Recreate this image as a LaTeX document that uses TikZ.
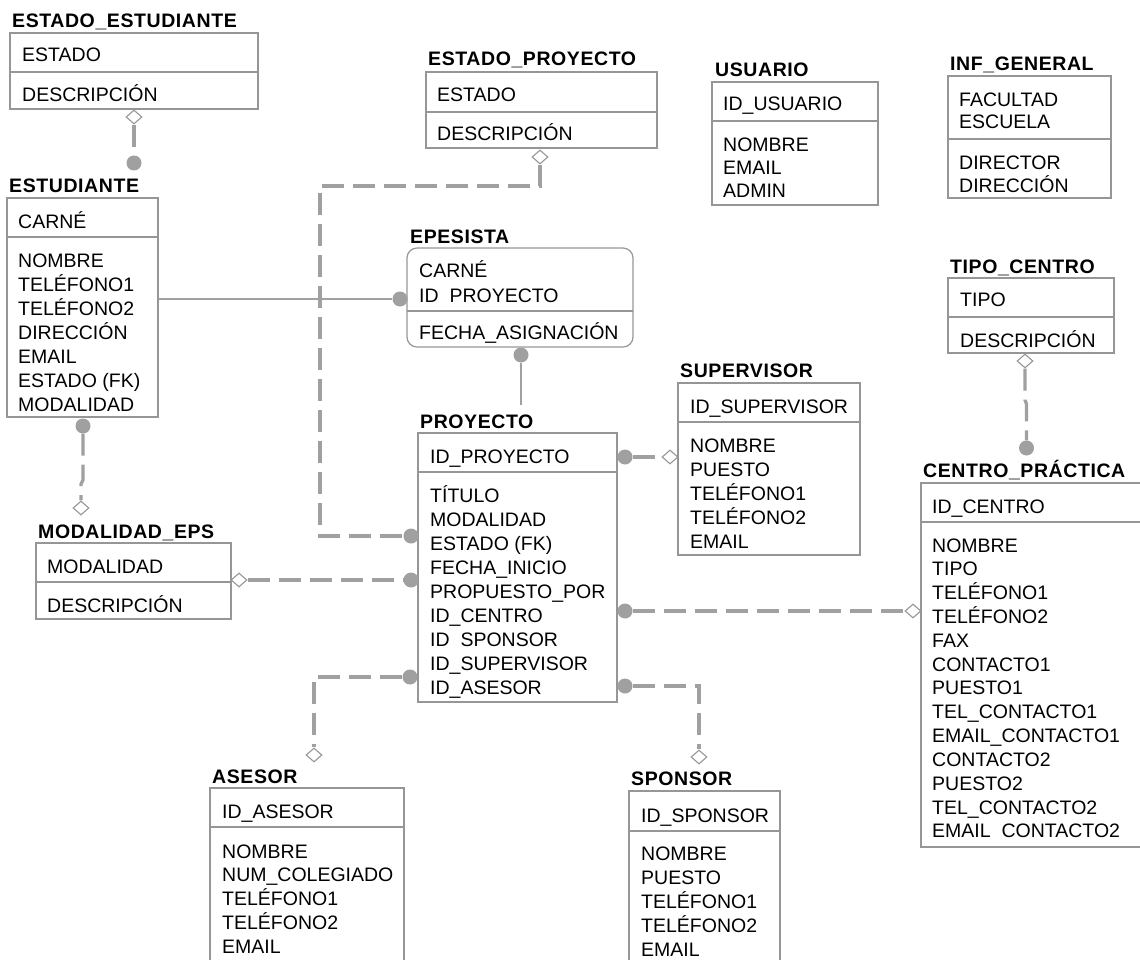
\documentclass[tikz,border=0pt]{standalone}
\usepackage{fontspec}
\setmainfont{Liberation Sans}
\usetikzlibrary{shapes.geometric,backgrounds}

\definecolor{boxgray}{RGB}{150,150,150}
\definecolor{linkgray}{RGB}{160,160,160}

\tikzset{
  ebox/.style={draw=boxgray, line width=1.2pt, inner sep=0pt, outer sep=0pt, anchor=north west},
  rbox/.style={ebox, rounded corners=10pt},
  divider/.style={draw=boxgray, line width=1.2pt},
  ttl/.style={anchor=base west, inner sep=0pt,
    font=\fontsize{19.5}{24}\selectfont\bfseries\addfontfeature{LetterSpace=3}},
  attr/.style={anchor=base west, inner sep=0pt, font=\fontsize{19.5}{24}\selectfont},
  dot/.style={circle, fill=linkgray, inner sep=0pt, minimum size=15pt},
  dia/.style={diamond, draw=boxgray, fill=white, line width=1.1pt, inner sep=0pt,
    minimum width=16pt, minimum height=14pt},
  fk/.style={draw=linkgray, line width=3.3pt, dash pattern=on 22pt off 9pt},
  idf/.style={draw=linkgray, line width=1.6pt},
}

% entity box: name, x, top, width, height, offset of the key divider
\newcommand\entbox[7][ebox]{%
  \node[#1, minimum width=#5pt, minimum height=#6pt] (#2) at (#3,#4) {};
  \draw[divider] ([yshift=-#7pt]#2.north west) -- ([yshift=-#7pt]#2.north east);}

% column of attribute names: prefix, x, first baseline, step, list
\newcommand\rowsat[5]{%
  \foreach \t [count=\i from 0] in {#5} {\node[attr] (#1\i) at (#2,{#3+\i*#4}) {\t};}}

\begin{document}
\begin{tikzpicture}[x=1pt, y=-1pt]
\useasboundingbox (0,0) rectangle (1140,960);
\clip (0,0) rectangle (1140,960);

% ---------------- entities ----------------
% ESTADO_ESTUDIANTE
\entbox{ee}{10}{33}{248}{76}{39}
\node[ttl] (ee-t) at (12,28) {ESTADO\_ESTUDIANTE};
\rowsat{eek}{22}{62}{40}{ESTADO,DESCRIPCIÓN}

% ESTUDIANTE
\entbox{est}{7}{198}{151}{219}{39}
\node[ttl] (est-t) at (9,193) {ESTUDIANTE};
\node[attr] (est-k) at (18,229) {CARNÉ};
\rowsat{esta}{18}{267}{24}{NOMBRE,TELÉFONO1,TELÉFONO2,DIRECCIÓN,EMAIL,ESTADO (FK),MODALIDAD}

% ESTADO_PROYECTO
\entbox{ep}{426}{72}{231}{76}{40}
\node[ttl] (ep-t) at (428,66) {ESTADO\_PROYECTO};
\rowsat{epk}{437}{102}{39}{ESTADO,DESCRIPCIÓN}

% USUARIO
\entbox{usu}{712}{82}{166}{123}{39}
\node[ttl] (usu-t) at (715,77) {USUARIO};
\node[attr] (usu-k) at (723,111) {ID\_USUARIO};
\rowsat{usua}{723}{152}{22.5}{NOMBRE,EMAIL,ADMIN}

% INF_GENERAL
\entbox{inf}{948}{76}{163}{122}{63}
\node[ttl] (inf-t) at (950,71) {INF\_GENERAL};
\rowsat{infk}{959}{107}{21.5}{FACULTAD,ESCUELA}
\rowsat{infa}{959}{170}{23}{DIRECTOR,DIRECCIÓN}

% EPESISTA
\entbox[rbox]{epe}{407}{248}{226}{99}{63}
\node[ttl] (epe-t) at (410,243) {EPESISTA};
\rowsat{epek}{419}{277}{25}{CARNÉ,ID\phantom{\_}PROYECTO}
\node[attr] (epe-a) at (419,339) {FECHA\_ASIGNACIÓN};

% TIPO_CENTRO
\entbox{tc}{948}{278}{166}{75}{39}
\node[ttl] (tc-t) at (950,273) {TIPO\_CENTRO};
\rowsat{tck}{960}{306}{41}{TIPO,DESCRIPCIÓN}

% SUPERVISOR
\entbox{sup}{678}{383}{182}{172}{39}
\node[ttl] (sup-t) at (680,377) {SUPERVISOR};
\node[attr] (sup-k) at (690,413) {ID\_SUPERVISOR};
\rowsat{supa}{690}{452}{24}{NOMBRE,PUESTO,TELÉFONO1,TELÉFONO2,EMAIL}

% PROYECTO
\entbox{pro}{418}{433}{199}{269}{39}
\node[ttl] (pro-t) at (420,428) {PROYECTO};
\node[attr] (pro-k) at (430,463) {ID\_PROYECTO};
\rowsat{proa}{430}{502}{24}{TÍTULO,MODALIDAD,ESTADO (FK),FECHA\_INICIO,PROPUESTO\_POR,ID\_CENTRO,ID\phantom{\_}SPONSOR,ID\_SUPERVISOR,ID\_ASESOR}

% CENTRO_PRÁCTICA
\entbox{cp}{921}{483}{224}{364}{39}
\node[ttl] (cp-t) at (923,477) {CENTRO\_PRÁCTICA};
\node[attr] (cp-k) at (932,513) {ID\_CENTRO};
\rowsat{cpa}{932}{552}{23.83}{NOMBRE,TIPO,TELÉFONO1,TELÉFONO2,FAX,CONTACTO1,PUESTO1,TEL\_CONTACTO1,EMAIL\_CONTACTO1,CONTACTO2,PUESTO2,TEL\_CONTACTO2,EMAIL\phantom{\_}CONTACTO2}

% MODALIDAD_EPS
\entbox{me}{36}{543}{195}{76}{39}
\node[ttl] (me-t) at (38,538) {MODALIDAD\_EPS};
\rowsat{mek}{47}{573}{39}{MODALIDAD,DESCRIPCIÓN}

% ASESOR
\entbox{ase}{210}{788}{194}{182}{39}
\node[ttl] (ase-t) at (212,783) {ASESOR};
\node[attr] (ase-k) at (222,818) {ID\_ASESOR};
\rowsat{asea}{222}{858}{23.75}{NOMBRE,NUM\_COLEGIADO,TELÉFONO1,TELÉFONO2,EMAIL}

% SPONSOR
\entbox{spo}{629}{791}{151}{182}{40}
\node[ttl] (spo-t) at (631,785) {SPONSOR};
\node[attr] (spo-k) at (641,822) {ID\_SPONSOR};
\rowsat{spoa}{641}{860}{24}{NOMBRE,PUESTO,TELÉFONO1,TELÉFONO2,EMAIL}

% ---------------- relationship ends ----------------
\node[dia] (d1) at (134,117) {};
\node[dot] (p1) at (134,163) {};
\node[dot] (p2) at (400,299) {};
\node[dot] (p3) at (521,355) {};
\coordinate (p3e) at (521,405);
\node[dia] (d4) at (540,157) {};
\coordinate (c4a) at (540,186);
\coordinate (c4b) at (320,186);
\node[dot] (p4) at (411,536) {};
\node[dia] (d5) at (239,580) {};
\node[dot] (p5) at (411,580) {};
\node[dot] (p6) at (83,426) {};
\coordinate (c6a) at (83,480);
\coordinate (c6b) at (81,484);
\node[dia] (d6) at (81,508) {};
\node[dot] (p7) at (625,457) {};
\node[dia] (d7) at (670,457) {};
\node[dot] (p8) at (625,611) {};
\node[dia] (d8) at (913,611) {};
\node[dia] (d9) at (1025,361) {};
\coordinate (c9a) at (1025,400);
\coordinate (c9b) at (1026.5,404);
\node[dot] (p9) at (1026.5,448) {};
\node[dot] (p10) at (410,677) {};
\node[dia] (d10) at (314,755) {};
\node[dot] (p11) at (625,686) {};
\node[dia] (d11) at (699,757) {};

% ---------------- connectors ----------------
\begin{scope}[on background layer]
  \draw[fk] (d1.south) -- (p1);
  \draw[idf] (est.east |- p2) -- (p2);
  \draw[idf, line width=2pt] (p3) -- (p3e);
  \draw[fk] (d4.south) -- (c4a) -- (c4b) |- (p4);
  \draw[fk] (d5.east) -- (p5);
  \draw[fk] (p6) -- (c6a) -- (c6b) -- (d6.north);
  \draw[fk] (p7) -- (d7.west);
  \draw[fk] (p8) -- (d8.west);
  \draw[fk] (d9.south) -- (c9a) -- (c9b) -- (p9);
  \draw[fk] (p10) -| (d10.north);
  \draw[fk] (p11) -| (d11.north);
\end{scope}
\end{tikzpicture}
\end{document}
